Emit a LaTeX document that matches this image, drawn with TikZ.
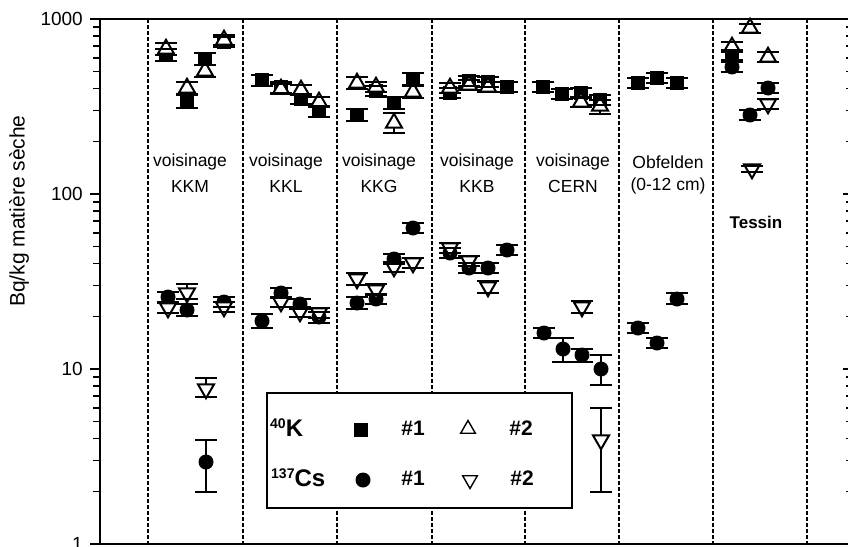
\documentclass[tikz,border=0pt]{standalone}
\usepackage{fontspec}
\setmainfont{Liberation Sans}
\usetikzlibrary{shapes.geometric}
\newcommand\datalist{%
 % KKM
 \dpt{166}{55}{mksq}{6}{6}\dpt{166}{49}{mktu}{6}{6}
 \dpt{187}{102}{mksq}{7}{6}\dpt{187}{88}{mktu}{6}{6}
 \dpt{205}{59}{mksq}{6}{6}\dpt{205}{71}{mktu}{6}{6}
 \dpt{224}{42}{mksq}{5}{5}\dpt{224}{40}{mktu}{5}{5}
 \dpt{168}{297}{mkci}{5}{6}\dpt{168}{308}{mktd}{6}{5}
 \dpt{187}{310}{mkci}{6}{6}\dpt{187}{293}{mktd}{9}{6}
 \dpt{206}{462}{mkci}{22}{30}\dpt{206}{389}{mktd}{11}{8}
 \dpt{224}{302}{mkci}{5}{5}\dpt{224}{307}{mktd}{5}{5}
 % KKL
 \dpt{262}{80}{mksq}{5}{6}
 \dpt{281}{87}{mksq}{5}{6}\dpt{281}{89}{mktu}{5}{5}
 \dpt{301}{99}{mksq}{5}{5}\dpt{301}{90}{mktu}{5}{5}
 \dpt{319}{111}{mksq}{5}{6}\dpt{319}{102}{mktu}{5}{5}
 \dpt{262}{321}{mkci}{7}{7}
 \dpt{281}{293}{mkci}{5}{5}\dpt{281}{302}{mktd}{5}{5}
 \dpt{300}{304}{mkci}{5}{5}\dpt{300}{312}{mktd}{5}{5}
 \dpt{319}{317}{mkci}{5}{6}\dpt{319}{313}{mktd}{5}{5}
 % KKG
 \dpt{357}{115}{mksq}{6}{6}\dpt{357}{83}{mktu}{6}{6}
 \dpt{376}{91}{mksq}{5}{5}\dpt{376}{87}{mktu}{5}{5}
 \dpt{394}{103}{mksq}{6}{6}\dpt{394}{123}{mktu}{10}{10}
 \dpt{413}{79}{mksq}{6}{6}\dpt{413}{92}{mktu}{6}{6}
 \dpt{357}{303}{mkci}{6}{6}\dpt{357}{279}{mktd}{6}{6}
 \dpt{376}{299}{mkci}{5}{5}\dpt{376}{290}{mktd}{6}{5}
 \dpt{394}{259}{mkci}{5}{5}\dpt{394}{267}{mktd}{5}{5}
 \dpt{413}{228}{mkci}{5}{5}\dpt{413}{263}{mktd}{5}{5}
 % KKB
 \dpt{450}{93}{mksq}{5}{5}\dpt{450}{88}{mktu}{5}{5}
 \dpt{469}{81}{mksq}{5}{5}\dpt{469}{85}{mktu}{5}{5}
 \dpt{488}{82}{mksq}{5}{5}\dpt{488}{87}{mktu}{5}{5}
 \dpt{507}{87}{mksq}{5}{5}
 \dpt{450}{253}{mkci}{5}{5}\dpt{450}{248}{mktd}{5}{5}
 \dpt{469}{268}{mkci}{5}{5}\dpt{469}{261}{mktd}{5}{5}
 \dpt{488}{268}{mkci}{5}{5}\dpt{488}{287}{mktd}{6}{6}
 \dpt{507}{250}{mkci}{5}{5}
 % CERN
 \dpt{543}{87}{mksq}{5}{5}
 \dpt{562}{94}{mksq}{5}{5}
 \dpt{581}{93}{mksq}{5}{5}\dpt{581}{102}{mktu}{5}{5}
 \dpt{600}{100}{mksq}{5}{5}\dpt{600}{106}{mktu}{6}{8}
 \dpt{544}{333}{mkci}{5}{5}
 \dpt{563}{349}{mkci}{11}{13}
 \dpt{582}{355}{mkci}{6}{7}\dpt{582}{307}{mktd}{6}{6}
 \dpt{601}{369}{mkci}{14}{16}\dpt{601}{440}{mktd}{32}{52}
 % Obfelden
 \dpt{638}{83}{mksq}{5}{5}\dpt{657}{78}{mksq}{5}{5}\dpt{677}{83}{mksq}{5}{5}
 \dpt{638}{328}{mkci}{5}{5}\dpt{657}{343}{mkci}{5}{5}\dpt{677}{299}{mkci}{6}{5}
 % Tessin
 \dpt{732}{55}{mksq}{5}{5}\dpt{732}{47}{mktu}{5}{5}\dpt{732}{67}{mkci}{5}{5}
 \dpt{750}{28}{mktu}{4}{5}\dpt{750}{115}{mkci}{5}{5}\dpt{752}{169}{mktd}{3}{3}
 \dpt{768}{57}{mktu}{5}{5}\dpt{768}{88}{mkci}{5}{5}\dpt{768}{104}{mktd}{5}{5}
}
\def\dpt{}
\def\onlytype{}
\begin{document}
\begin{tikzpicture}[x=1pt,y=-1pt,
  axis/.style={line width=2.1pt},
  tickline/.style={line width=1.6pt},
  sep/.style={line width=1.3pt, dash pattern=on 3.5pt off 2.5pt},
  ebar/.style={line width=1.5pt},
  mksq/.style={rectangle, fill=black, minimum size=13.5pt, inner sep=0pt},
  mkci/.style={circle, fill=black, minimum size=15pt, inner sep=0pt},
  mktu/.style={regular polygon, regular polygon sides=3, minimum size=18.5pt, inner sep=0pt, draw=black, fill=white, line width=2pt},
  mktd/.style={mktu, shape border rotate=180},
  lbl/.style={font=\fontsize{17.5}{20}\selectfont, inner sep=0pt},
  tlbl/.style={font=\fontsize{19}{21}\selectfont, anchor=east, inner sep=0pt},
  leg/.style={font=\fontsize{21}{24}\bfseries, inner sep=0pt}
]
\path[use as bounding box] (0,0) rectangle (848,546);
% separators
\foreach \xx in {148,243,337,432,525,619,713,807}
  \draw[sep] (\xx,19) -- (\xx,544);
% axes
\draw[axis] (100,544) -- (100,19) -- (851,19);
\draw[axis] (100,544) -- (851,544);
\draw[axis] (850,19) -- (850,544);
\foreach \d in {0,1,2,3}{
  \draw[tickline] (100,{544-175*\d}) -- ++(-10,0);
  \draw[tickline] (850,{544-175*\d}) -- ++(-7,0);
}
\foreach \d in {0,1,2}{
  \foreach \m in {2,...,9}{
    \draw[tickline] (100,{544-175*(\d+log10(\m))}) -- ++(-7,0);
    \draw[tickline] (850,{544-175*(\d+log10(\m))}) -- ++(-4,0);
  }
}
\node[tlbl] (t1000) at (83,19) {1000};
\node[tlbl] (t100) at (83,194) {100};
\node[tlbl] (t10) at (83,369) {10};
\node[tlbl] (t1) at (83,544) {1};
\node[font=\fontsize{21}{24}\selectfont, rotate=90, inner sep=0pt] (ylab) at (19,211) {Bq/kg matière sèche};
% group labels
\node[lbl] (g1a) at (190,162) {voisinage};
\node[lbl] (g1b) at (190,186) {KKM};
\node[lbl] (g2a) at (286,162) {voisinage};
\node[lbl] (g2b) at (286,186) {KKL};
\node[lbl] (g3a) at (379,162) {voisinage};
\node[lbl] (g3b) at (379,186) {KKG};
\node[lbl] (g4a) at (477,162) {voisinage};
\node[lbl] (g4b) at (477,186) {KKB};
\node[lbl] (g5a) at (573,162) {voisinage};
\node[lbl] (g5b) at (573,186) {CERN};
\node[lbl] (g6a) at (668,162) {Obfelden};
\node[lbl] (g6b) at (668,186) {(0-12 cm)};
\node[lbl, font=\fontsize{17}{20}\bfseries] (g7) at (756,222) {Tessin};
% data: stems
\def\dpt#1#2#3#4#5{\draw[ebar] (#1,#2-#4) -- (#1,#2+#5);}
\datalist
% markers
\def\dpt#1#2#3#4#5{\def\tmp{#3}\ifx\tmp\onlytype\node[#3] at (#1,#2) {};\fi}
\def\onlytype{mksq}\datalist
\def\onlytype{mkci}\datalist
\def\onlytype{mktu}\datalist
\def\onlytype{mktd}\datalist
% caps
\def\dpt#1#2#3#4#5{\draw[ebar] (#1-11,#2-#4) -- ++(22,0) (#1-11,#2+#5) -- ++(22,0);}
\datalist
% legend
\draw[line width=1.7pt, fill=white] (267,393) rectangle (572,508);
\node[leg, anchor=west] (lk) at (270,428) {\raisebox{8pt}{\fontsize{14}{14}\bfseries 40}\fontsize{24}{24}\bfseries K};
\node[mksq] (lksq) at (361,430) {};
\node[leg] (lk1) at (413,428) {\#1};
\node[mktu, line width=1.4pt, minimum size=17pt] (lktu) at (468,429) {};
\node[leg] (lk2) at (521,428) {\#2};
\node[leg, anchor=west] (lc) at (271,478) {\raisebox{8pt}{\fontsize{14}{14}\bfseries 137}\fontsize{24}{24}\bfseries Cs};
\node[mkci] (lcci) at (363,480) {};
\node[leg] (lc1) at (413,478) {\#1};
\node[mktd, line width=1.4pt, minimum size=17pt] (lctd) at (470,480) {};
\node[leg] (lc2) at (522,478) {\#2};
\end{tikzpicture}
\end{document}
